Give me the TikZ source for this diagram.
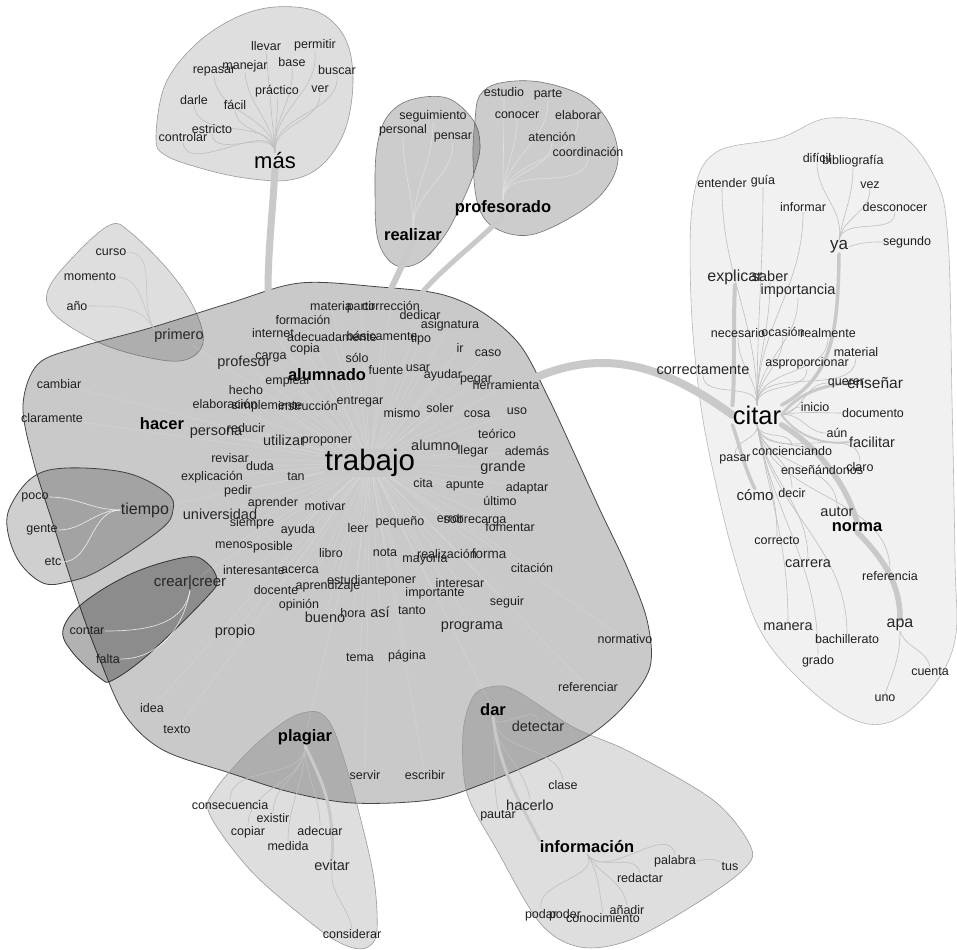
\documentclass[tikz,border=0pt]{standalone}
\usepackage{fontspec}
\setmainfont{Liberation Sans}
\pgfdeclarelayer{bg}
\pgfdeclarelayer{edges}
\pgfsetlayers{bg,edges,main}
\tikzset{
 wsm/.style={font=\fontsize{12.5}{14}\selectfont, text=black!88, inner sep=0.3pt},
 wmd/.style={font=\fontsize{14.5}{16}\selectfont, text=black!85, inner sep=0.3pt},
 whub/.style={font=\fontsize{16.5}{18}\selectfont\bfseries, text=black, inner sep=0.3pt},
 clmain/.style={fill=black, fill opacity=0.21, draw=black!72, line width=0.8pt},
 cldark/.style={fill=black, fill opacity=0.19, draw=black!75, line width=0.8pt},
 cldarker/.style={fill=black, fill opacity=0.30, draw=black!80, line width=0.8pt},
 clmid/.style={fill=black, fill opacity=0.20, draw=black!55, line width=0.6pt},
 cllight/.style={fill=black, fill opacity=0.13, draw=black!40, line width=0.6pt},
 clpale/.style={fill=black, fill opacity=0.055, draw=black!28, line width=0.6pt},
 tk/.style={draw=black!21, line width=#1, line cap=round},
 tk/.default=6pt,
 tedge/.style={draw=black!25, line width=0.6pt},
 wedge/.style={draw=white, draw opacity=0.75, line width=0.7pt},
 redge/.style={draw=white, draw opacity=0.2, line width=0.5pt},
}
\begin{document}
\begin{tikzpicture}[x=1pt,y=-1pt]
\useasboundingbox (0,0) rectangle (957,949);

% ---------------- clusters ----------------
\begin{pgfonlayer}{bg}
\fill[white] (0,0) rectangle (957,949);
% citar cluster
\filldraw[clpale] plot[smooth cycle, tension=0.6] coordinates {(780,138) (830,118) (895,130) (935,178) (948,240) (952,400) (955,560) (955,640) (930,690) (890,722) (850,718) (800,680) (760,630) (735,560) (715,480) (700,400) (691,300) (693,200) (715,153)};
% mas cluster
\filldraw[cllight] plot[smooth cycle, tension=0.6] coordinates {(156,138) (165,85) (195,45) (235,18) (275,7) (318,12) (345,38) (353,80) (345,130) (322,165) (290,180) (245,178) (200,168) (165,155)};
% primero cluster
\filldraw[cllight] plot[smooth cycle, tension=0.6] coordinates {(110,225) (130,232) (170,272) (195,310) (203,343) (185,360) (150,358) (100,343) (55,315) (48,290) (75,255)};
% main cluster
\filldraw[clmain] plot[smooth cycle, tension=0.55] coordinates {(23,405) (38,364) (80,347) (150,328) (230,303) (300,283) (380,287) (440,294) (482,312) (520,345) (548,397) (575,455) (600,510) (627,567) (647,620) (650,667) (625,705) (590,735) (540,760) (480,785) (430,800) (353,803) (290,792) (230,773) (163,750) (125,715) (100,660) (80,607) (55,530) (33,460)};
% realizar cluster
\filldraw[clmid] plot[smooth cycle, tension=0.6] coordinates {(377,147) (387,117) (410,100) (447,98) (473,120) (480,145) (475,170) (463,200) (445,235) (420,262) (395,265) (378,240) (375,190)};
% profesorado cluster
\filldraw[clmid] plot[smooth cycle, tension=0.6] coordinates {(480,95) (500,83) (540,82) (585,97) (610,125) (618,160) (605,190) (575,215) (530,235) (495,228) (478,205) (473,160) (475,120)};
% tiempo cluster
\filldraw[cldark] plot[smooth cycle, tension=0.6] coordinates {(10,507) (33,477) (67,468) (127,473) (167,493) (173,510) (160,530) (100,570) (67,582) (43,583) (20,563) (8,533)};
% crear cluster
\filldraw[cldarker] plot[smooth cycle, tension=0.6] coordinates {(63,630) (83,603) (133,573) (187,557) (207,563) (217,580) (207,597) (150,653) (113,680) (100,678) (73,653)};
% plagiar cluster
\filldraw[cllight] plot[smooth cycle, tension=0.55] coordinates {(307,712) (322,714) (335,733) (353,790) (373,873) (377,930) (368,947) (350,947) (320,930) (253,873) (210,815) (215,790) (253,747) (287,720)};
% informacion cluster
\filldraw[cllight] plot[smooth cycle, tension=0.55] coordinates {(490,687) (515,690) (573,727) (630,752) (713,800) (750,845) (745,868) (697,903) (630,940) (580,947) (540,923) (497,850) (467,793) (463,733) (473,697)};
\end{pgfonlayer}

% ---------------- words ----------------
% mas cluster
\node[wsm] (llevar) at (266,46) {llevar};
\node[wsm] (permitir) at (315,45) {permitir};
\node[wsm] (repasar) at (214,71) {repasar};
\node[wsm] (manejar) at (245,66) {manejar};
\node[wsm] (base) at (292,62) {base};
\node[wsm] (buscar) at (337,70) {buscar};
\node[wsm] (practico) at (277,91) {práctico};
\node[wsm] (ver) at (320,89) {ver};
\node[wsm] (darle) at (194,100) {darle};
\node[wsm] (facil) at (235,105) {fácil};
\node[wsm] (estricto) at (212,129) {estricto};
\node[wsm] (controlar) at (183,137) {controlar};
\node[font=\fontsize{22}{24}\selectfont, inner sep=0.3pt] (mas) at (275,161) {más};

% realizar / profesorado
\node[wsm] (seguimiento) at (433,116) {seguimiento};
\node[wsm] (personal) at (403,130) {personal};
\node[wsm] (pensar) at (453,137) {pensar};
\node[whub] (realizar) at (413,235) {realizar};
\node[wsm] (estudio) at (504,92) {estudio};
\node[wsm] (parte) at (548,95) {parte};
\node[wsm] (conocer) at (517,115) {conocer};
\node[wsm] (elaborar) at (578,115) {elaborar};
\node[wsm] (atencion) at (552,137) {atención};
\node[wsm] (coordinacion) at (588,152) {coordinación};
\node[whub] (profesorado) at (503,208) {profesorado};

% primero cluster
\node[wsm] (curso) at (111,252) {curso};
\node[wsm] (momento) at (90,277) {momento};
\node[wsm] (anio) at (77,306) {año};
\node[wmd] (primero) at (179,336) {primero};

% main cluster
\node[wsm] (materia) at (331,306) {materia};
\node[wsm] (partir) at (361,307) {partir};
\node[wsm] (correccion) at (391,306) {corrección};
\node[wsm] (dedicar) at (420,315) {dedicar};
\node[wsm] (formacion) at (303,320) {formación};
\node[wsm] (asignatura) at (450,325) {asignatura};
\node[wsm] (internet) at (273,333) {internet};
\node[wsm] (adecuadamente) at (332,337) {adecuadamente};
\node[wsm] (basicamente) at (382,336) {básicamente};
\node[wsm] (tipo) at (421,339) {tipo};
\node[wsm] (copia) at (305,349) {copia};
\node[wsm] (ir) at (460,348) {ir};
\node[wsm] (caso) at (488,353) {caso};
\node[wsm] (solo) at (357,358) {sólo};
\node[wsm] (carga) at (271,357) {carga};
\node[wmd] (profesor) at (244,363) {profesor};
\node[whub] (alumnado) at (327,375) {alumnado};
\node[wsm] (fuente) at (386,370) {fuente};
\node[wsm] (usar) at (418,368) {usar};
\node[wsm] (ayudar) at (443,375) {ayudar};
\node[wsm] (pegar) at (476,380) {pegar};
\node[wsm] (herramienta) at (506,385) {herramienta};
\node[wsm] (emplear) at (288,381) {emplear};
\node[wsm] (hecho) at (246,390) {hecho};
\node[wsm] (elaboracion) at (225,404) {elaboración};
\node[wsm] (simplemente) at (267,406) {simplemente};
\node[wsm] (instruccion) at (308,406) {instrucción};
\node[wsm] (entregar) at (360,402) {entregar};
\node[wsm] (mismo) at (402,413) {mismo};
\node[wsm] (soler) at (440,408) {soler};
\node[wsm] (cosa) at (477,414) {cosa};
\node[wsm] (uso) at (517,411) {uso};
\node[wsm] (cambiar) at (59,384) {cambiar};
\node[wsm] (claramente) at (52,418) {claramente};
\node[whub] (hacer) at (162,424) {hacer};
\node[wmd] (persona) at (216,433) {persona};
\node[wsm] (reducir) at (246,428) {reducir};
\node[wmd] (utilizar) at (284,440) {utilizar};
\node[wsm] (proponer) at (327,441) {proponer};
\node[wsm] (teorico) at (497,434) {teórico};
\node[font=\fontsize{29.5}{31}\selectfont, inner sep=0.3pt] (trabajo) at (370,463) {trabajo};
\node[wmd] (alumno) at (435,445) {alumno};
\node[wsm] (llegar) at (473,451) {llegar};
\node[wsm] (ademas) at (527,451) {además};
\node[wmd] (grande) at (503,468) {grande};
\node[wsm] (revisar) at (230,458) {revisar};
\node[wsm] (duda) at (260,466) {duda};
\node[wsm] (explicacion) at (212,477) {explicación};
\node[wsm] (tan) at (296,477) {tan};
\node[wsm] (cita) at (423,483) {cita};
\node[wsm] (apunte) at (465,486) {apunte};
\node[wsm] (adaptar) at (527,488) {adaptar};
\node[wsm] (pedir) at (238,491) {pedir};
\node[wsm] (ultimo) at (500,501) {último};
\node[wsm] (aprender) at (273,503) {aprender};
\node[wsm] (motivar) at (325,506) {motivar};
\node[wmd] (universidad) at (220,514) {universidad};
\node[font=\fontsize{16}{18}\selectfont, text=black!85, inner sep=0.3pt] (tiempo) at (145,510) {tiempo};
\node[wsm] (siempre) at (252,523) {siempre};
\node[wsm] (leer) at (358,528) {leer};
\node[wsm] (ayuda) at (298,530) {ayuda};
\node[wsm] (pequeno) at (400,522) {pequeño};
\node[wsm] (error) at (450,519) {error};
\node[wsm] (sobrecarga) at (475,520) {sobrecarga};
\node[wsm] (fomentar) at (510,527) {fomentar};
\node[wsm] (menos) at (234,545) {menos};
\node[wsm] (posible) at (273,547) {posible};
\node[wsm] (libro) at (331,553) {libro};
\node[wsm] (nota) at (385,553) {nota};
\node[wsm] (mayoria) at (425,559) {mayoría};
\node[wsm] (realizacion) at (447,554) {realización};
\node[font=\fontsize{13.5}{15}\selectfont, text=black!85, inner sep=0.3pt] (forma) at (489,554) {forma};
\node[wsm] (citacion) at (532,568) {citación};
\node[wsm] (interesante) at (254,570) {interesante};
\node[wsm] (acerca) at (300,570) {acerca};
\node[font=\fontsize{15}{17}\selectfont, text=black!85, inner sep=0.3pt] (crear) at (190,583) {crear|creer};
\node[wsm] (estudiante) at (356,580) {estudiante};
\node[wsm] (poner) at (400,581) {poner};
\node[wsm] (aprendizaje) at (328,586) {aprendizaje};
\node[wsm] (docente) at (276,590) {docente};
\node[wsm] (interesar) at (460,583) {interesar};
\node[wsm] (importante) at (435,593) {importante};
\node[wsm] (seguir) at (507,602) {seguir};
\node[wsm] (opinion) at (299,605) {opinión};
\node[wmd] (bueno) at (325,617) {bueno};
\node[wsm] (hora) at (353,613) {hora};
\node[wmd] (asi) at (380,612) {así};
\node[wsm] (tanto) at (412,611) {tanto};
\node[wmd] (programa) at (472,627) {programa};
\node[wmd] (propio) at (235,632) {propio};
\node[wsm] (normativo) at (625,639) {normativo};
\node[wsm] (tema) at (360,658) {tema};
\node[wsm] (pagina) at (407,656) {página};
\node[wsm] (referenciar) at (588,687) {referenciar};
\node[wsm] (idea) at (152,708) {idea};
\node[wsm] (texto) at (177,730) {texto};
\node[whub] (plagiar) at (305,737) {plagiar};
\node[whub] (dar) at (493,710) {dar};
\node[wmd] (detectar) at (538,726) {detectar};
\node[wsm] (servir) at (365,775) {servir};
\node[wsm] (escribir) at (425,775) {escribir};
\node[wsm] (poco) at (35,497) {poco};
\node[wsm] (gente) at (42,530) {gente};
\node[wsm] (etc) at (53,562) {etc};
\node[wsm] (contar) at (87,631) {contar};
\node[wsm] (falta) at (108,659) {falta};

% plagiar cluster
\node[wsm] (consecuencia) at (230,805) {consecuencia};
\node[wsm] (existir) at (273,818) {existir};
\node[wsm] (copiar) at (248,832) {copiar};
\node[wsm] (adecuar) at (320,831) {adecuar};
\node[wsm] (medida) at (288,846) {medida};
\node[wmd] (evitar) at (332,865) {evitar};
\node[wsm] (considerar) at (352,934) {considerar};

% informacion cluster
\node[wsm] (clase) at (563,785) {clase};
\node[wmd] (hacerlo) at (530,805) {hacerlo};
\node[wsm] (pautar) at (498,816) {pautar};
\node[whub] (informacion) at (587,847) {información};
\node[wsm] (palabra) at (675,861) {palabra};
\node[wsm] (tus) at (730,867) {tus};
\node[wsm] (redactar) at (640,878) {redactar};
\node[wsm] (podar) at (541,915) {podar};
\node[wsm] (poder) at (565,915) {poder};
\node[wsm] (conocimiento) at (603,918) {conocimiento};
\node[wsm] (anadir) at (627,910) {añadir};

% citar cluster
\node[wsm] (dificil) at (817,158) {difícil};
\node[wsm] (bibliografia) at (853,161) {bibliografía};
\node[wsm] (entender) at (722,183) {entender};
\node[wsm] (guia) at (763,181) {guía};
\node[wsm] (vez) at (870,185) {vez};
\node[wsm] (informar) at (803,207) {informar};
\node[wsm] (desconocer) at (895,207) {desconocer};
\node[font=\fontsize{17}{19}\selectfont, text=black!85, inner sep=0.3pt] (ya) at (839,247) {ya};
\node[wsm] (segundo) at (907,242) {segundo};
\node[font=\fontsize{16}{18}\selectfont, text=black!85, inner sep=0.3pt] (explicar) at (735,277) {explicar};
\node[wmd] (saber) at (770,276) {saber};
\node[wmd] (importancia) at (798,291) {importancia};
\node[wsm] (necesario) at (738,333) {necesario};
\node[wsm] (ocasion) at (783,332) {ocasión};
\node[wsm] (realmente) at (828,333) {realmente};
\node[wsm] (material) at (856,352) {material};
\node[wsm] (asproporcionar) at (807,363) {asproporcionar};
\node[wmd] (correctamente) at (703,370) {correctamente};
\node[wsm] (querer) at (846,383) {querer};
\node[font=\fontsize{15.5}{17}\selectfont, text=black!85, inner sep=0.3pt] (ensenar) at (875,383) {enseñar};
\node[font=\fontsize{25.5}{27}\selectfont, inner sep=0.3pt] (citar) at (757,415) {citar};
\node[wsm] (inicio) at (815,407) {inicio};
\node[wsm] (documento) at (873,413) {documento};
\node[wsm] (aun) at (837,433) {aún};
\node[wmd] (facilitar) at (872,442) {facilitar};
\node[wsm] (concienciando) at (792,451) {concienciando};
\node[wsm] (pasar) at (735,459) {pasar};
\node[wsm] (ensenandonos) at (822,470) {enseñándonos};
\node[wsm] (claro) at (860,467) {claro};
\node[font=\fontsize{15}{17}\selectfont, text=black!85, inner sep=0.3pt] (como) at (755,495) {cómo};
\node[wsm] (decir) at (792,493) {decir};
\node[wmd] (autor) at (837,512) {autor};
\node[whub] (norma) at (857,527) {norma};
\node[wsm] (correcto) at (777,541) {correcto};
\node[wmd] (carrera) at (808,564) {carrera};
\node[wsm] (referencia) at (890,576) {referencia};
\node[wmd] (manera) at (788,627) {manera};
\node[font=\fontsize{16}{18}\selectfont, text=black!85, inner sep=0.3pt] (apa) at (900,625) {apa};
\node[wsm] (bachillerato) at (847,639) {bachillerato};
\node[wsm] (grado) at (818,661) {grado};
\node[wsm] (cuenta) at (930,672) {cuenta};
\node[wsm] (uno) at (885,698) {uno};

% ---------------- connectors ----------------
\begin{pgfonlayer}{edges}
% faint rays in main cluster
\foreach \t in {materia,partir,correccion,dedicar,formacion,asignatura,internet,adecuadamente,basicamente,tipo,copia,ir,caso,solo,carga,profesor,alumnado,fuente,usar,ayudar,pegar,herramienta,emplear,hecho,elaboracion,simplemente,instruccion,entregar,mismo,soler,cosa,uso,hacer,persona,reducir,utilizar,proponer,teorico,cambiar,claramente,alumno,llegar,ademas,grande,revisar,duda,explicacion,tan,cita,apunte,adaptar,pedir,ultimo,aprender,motivar,universidad,siempre,leer,ayuda,pequeno,error,sobrecarga,fomentar,menos,posible,libro,nota,mayoria,realizacion,forma,citacion,interesante,acerca,estudiante,poner,aprendizaje,docente,interesar,importante,seguir,opinion,bueno,hora,asi,tanto,programa,propio,normativo,tema,pagina,referenciar,idea,texto,servir,escribir,primero,tiempo,crear,dar,plagiar}
  \draw[redge] (trabajo) -- (\t);
% mas
\foreach \t in {llevar,permitir,repasar,manejar,base,buscar,practico,ver,darle,facil,estricto,controlar}
  \draw[tedge] (mas.north) to[out=95,in=-85] (\t.south);
% realizar / profesorado
\foreach \t in {seguimiento,personal,pensar}
  \draw[tedge, draw=black!12] (realizar.north) to[out=90,in=-90] (\t.south);
\foreach \t in {estudio,parte,conocer,elaborar,atencion,coordinacion}
  \draw[tedge, draw=black!12] (profesorado.north) to[out=90,in=-90] (\t.south);
% primero
\foreach \t in {curso,momento,anio}
  \draw[tedge, draw=black!22] (primero.north west) to[out=120,in=0] (\t.east);
% tiempo, crear
\foreach \t in {poco,gente,etc}
  \draw[wedge] (tiempo.west) to[out=180,in=0] (\t.east);
\foreach \t in {contar,falta}
  \draw[wedge] (crear.south) to[out=-100,in=0] (\t.east);
% plagiar
\foreach \t in {consecuencia,existir,copiar,adecuar,medida}
  \draw[tedge] (plagiar.south) to[out=-90,in=90] (\t.north);
\draw[tedge] (evitar.south) to[out=-95,in=100] (considerar.north);
% dar / informacion
\foreach \t in {detectar,clase,pautar,hacerlo}
  \draw[tedge] (dar.south) to[out=-85,in=100] (\t.north);
\foreach \t in {palabra,redactar,podar,conocimiento,anadir}
  \draw[tedge] (informacion.south) to[out=-60,in=100] (\t.north);
\draw[tedge] (palabra.east) to[out=10,in=150] (tus.north west);
% citar cluster
\foreach \t in {dificil,bibliografia,vez,desconocer}
  \draw[tedge] (ya.north) to[out=80,in=-90] (\t.south);
\draw[tedge] (ya.east) to[out=20,in=180] (segundo.west);
\foreach \t in {entender,guia,informar,saber,importancia,necesario,ocasion,realmente,material,asproporcionar,correctamente}
  \draw[tedge] (citar.north) to[out=90,in=-90] (\t.south);
\foreach \t in {querer,inicio,documento,aun}
  \draw[tedge] (citar.east) to[out=10,in=180] (\t.west);
\foreach \t in {concienciando,pasar,ensenandonos,claro,decir,autor,correcto,carrera,manera,bachillerato,grado,referencia}
  \draw[tedge] (citar.south) to[out=-80,in=90] (\t.north);
\draw[tedge] (apa.south) to[out=-70,in=100] (cuenta.north);
\draw[tedge] (apa.south) to[out=-90,in=70] (uno.north);

% thick connectors
\coordinate (masend) at (268,293);
\coordinate (realend) at (386,300);
\coordinate (profend) at (420,295);
\coordinate (mainR) at (530,380);
\draw[tk=7pt] (mas.south) .. controls (272,220) and (268,250) .. (masend);
\draw[tk=6pt] (realizar.south) .. controls (405,260) and (395,280) .. (realend);
\draw[tk=5pt] (profesorado.south) .. controls (480,240) and (440,270) .. (profend);
\draw[tk=8pt] (mainR) .. controls (600,348) and (660,362) .. (citar.west);
\draw[tk=3.5pt] (citar.north east) .. controls (830,378) and (838,340) .. (ya.south);
\draw[tk=4pt] (citar.north west) .. controls (735,380) and (733,320) .. (explicar.south);
\draw[tk=3pt] (citar.east) .. controls (800,390) and (830,385) .. (ensenar.west);
\draw[tk=2pt] (citar.east) .. controls (800,440) and (830,445) .. (facilitar.west);
\draw[tk=5.5pt] (citar.south east) .. controls (815,445) and (845,480) .. (norma.north);
\draw[tk=5.5pt] (norma.south) .. controls (885,560) and (900,585) .. (apa.north);
\draw[tk=3.5pt] (citar.south west) .. controls (738,440) and (745,470) .. (como.north);
\draw[tk=3pt] (plagiar.south) .. controls (318,775) and (335,800) .. (evitar.north);
\draw[tk=3pt] (dar.south) .. controls (500,775) and (525,810) .. (informacion.north west);
\end{pgfonlayer}
\end{tikzpicture}
\end{document}
